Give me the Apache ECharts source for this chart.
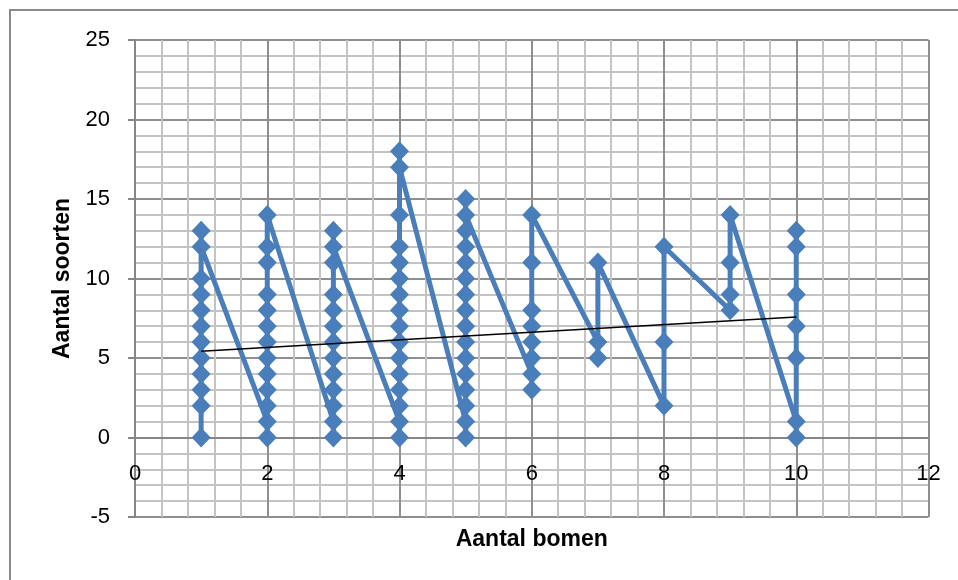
<!DOCTYPE html>
<html>
<head>
<meta charset="utf-8">
<script src="https://cdn.jsdelivr.net/npm/echarts@6/dist/echarts.min.js"></script>
<style>
html,body{margin:0;padding:0;background:#fff;}
#chart{width:958px;height:580px;}
</style>
</head>
<body>
<div id="chart"></div>
<script>
// Aantal bomen (x) and Aantal soorten (y), in drawing order
const bomen = [
  1,1,1,1,1,1,1,1,1,1,1,1,
  2,2,2,2,2,2,2,2,2,2,2,2,2,
  3,3,3,3,3,3,3,3,3,3,3,3,3,
  4,4,4,4,4,4,4,4,4,4,4,4,4,4,4,4,
  5,5,5,5,5,5,5,5,5,5,5,5,5,5,5,5,
  6,6,6,6,6,6,6,6,
  7,7,7,
  8,8,8,
  9,9,9,9,
  10,10,10,10,10,10,10
];
const soorten = [
  0,2,3,4,5,6,7,8,9,10,13,12,
  1,0,2,3,4,5,6,7,8,9,11,12,14,
  1,0,2,3,4,5,6,7,8,9,11,13,12,
  1,0,2,3,4,5,6,7,8,9,10,11,12,14,18,17,
  1,0,2,3,4,5,6,7,8,9,10,11,12,13,15,14,
  4,3,5,6,7,8,11,14,
  6,5,11,
  2,6,12,
  8,9,11,14,
  1,0,5,7,9,12,13
];
// Linear trendline end points
const trendX = [1, 10];
const trendY = [5.43, 7.58];

const xTitle = 'Aantal bomen';
const yTitle = 'Aantal soorten';

const pts = bomen.map((b, i) => [b, soorten[i]]);
const trend = trendX.map((t, i) => [t, trendY[i]]);

const FONT = '"Liberation Sans", Arial, sans-serif';
const chart = echarts.init(document.getElementById('chart'), null, {renderer: 'canvas'});
chart.setOption({
  animation: false,
  backgroundColor: '#fff',
  grid: {left: 135, right: 29.5, top: 40, bottom: 63, containLabel: false, outerBoundsMode: 'none'},
  graphic: [{
    type: 'rect', silent: true, z: -10,
    shape: {x: 10, y: 10, width: 980, height: 600},
    style: {fill: 'none', stroke: '#8a8a8a', lineWidth: 2}
  }],
  xAxis: {
    type: 'value', min: 0, max: 12, interval: 2,
    axisLine: {show: true, onZero: true, lineStyle: {color: '#868686', width: 2}},
    axisTick: {show: false},
    minorTick: {show: false, splitNumber: 5},
    splitLine: {show: true, lineStyle: {color: '#8f8f8f', width: 2}},
    minorSplitLine: {show: true, lineStyle: {color: '#c3c3c3', width: 2}},
    axisLabel: {inside: true, margin: 32, color: '#000', fontSize: 22, fontFamily: FONT},
    name: xTitle, nameLocation: 'middle', nameGap: 11,
    nameTextStyle: {fontSize: 23, fontWeight: 'bold', color: '#000', fontFamily: FONT}
  },
  yAxis: {
    type: 'value', min: -5, max: 25, interval: 5,
    axisLine: {show: true, onZero: false, lineStyle: {color: '#868686', width: 2}},
    axisTick: {show: true, inside: false, length: 7, lineStyle: {color: '#868686', width: 2}},
    minorTick: {show: false, splitNumber: 5},
    splitLine: {show: true, lineStyle: {color: '#8f8f8f', width: 2}},
    minorSplitLine: {show: true, lineStyle: {color: '#c3c3c3', width: 2}},
    axisLabel: {margin: 25, color: '#000', fontSize: 22, fontFamily: FONT},
    name: yTitle, nameLocation: 'middle', nameGap: 61, nameRotate: 90,
    nameTextStyle: {fontSize: 23, fontWeight: 'bold', color: '#000', fontFamily: FONT}
  },
  series: [{
    name: yTitle,
    type: 'line',
    data: pts,
    smooth: false,
    symbol: 'diamond',
    symbolSize: [19, 20],
    itemStyle: {color: '#4a7ebb'},
    lineStyle: {color: '#4a7ebb', width: 5},
    z: 3
  }, {
    name: 'trend',
    type: 'line',
    data: trend,
    symbol: 'none',
    lineStyle: {color: '#000', width: 1.5},
    z: 5
  }]
});
</script>
</body>
</html>
